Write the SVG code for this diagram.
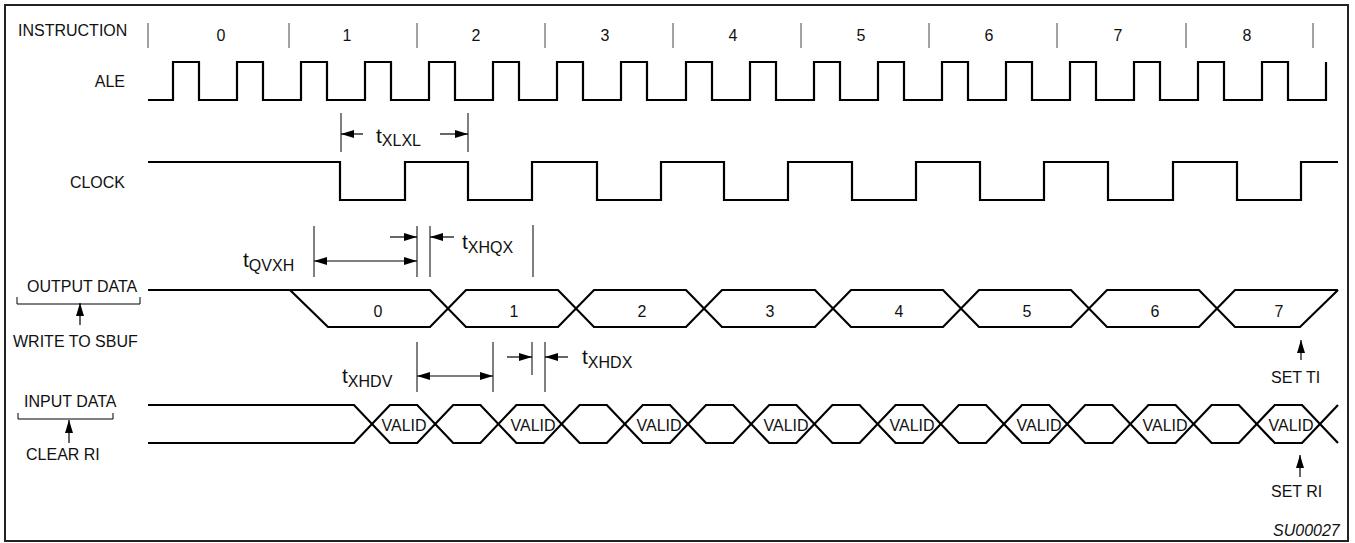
<svg xmlns="http://www.w3.org/2000/svg" width="1355" height="543" viewBox="0 0 1355 543">
<defs>
<marker id="ah" markerUnits="userSpaceOnUse" markerWidth="14" markerHeight="9" refX="13" refY="4" orient="auto-start-reverse">
<path d="M0,0 L13,4 L0,8 Z" fill="#000"/>
</marker>
<style>
text{font-family:"Liberation Sans",Arial,sans-serif;font-size:16px;fill:#111}
.wave{fill:none;stroke:#000;stroke-width:2.2;stroke-linejoin:miter}
.thin{fill:none;stroke:#000;stroke-width:1}
.tick{fill:none;stroke:#444;stroke-width:1}
.arr{fill:none;stroke:#000;stroke-width:1.2;marker-end:url(#ah)}
.arr2{fill:none;stroke:#000;stroke-width:1.2;marker-start:url(#ah);marker-end:url(#ah)}
.t{font-size:21px}
.mid{text-anchor:middle}
.end{text-anchor:end}
</style>
</defs>
<rect x="5" y="5" width="1343" height="536" fill="#fff" stroke="#222" stroke-width="2"/>

<g id="instruction">
<text x="18" y="36">INSTRUCTION</text>
<path class="tick" d="M148,23V48M289,23V48M417,23V48M545,23V48M673,23V48M801,23V48M929,23V48M1057,23V48M1186,23V48M1313,23V48"/>
<text class="mid" x="221" y="41">0</text>
<text class="mid" x="347" y="41">1</text>
<text class="mid" x="476" y="41">2</text>
<text class="mid" x="605" y="41">3</text>
<text class="mid" x="733" y="41">4</text>
<text class="mid" x="861" y="41">5</text>
<text class="mid" x="989" y="41">6</text>
<text class="mid" x="1118" y="41">7</text>
<text class="mid" x="1247" y="41">8</text>
</g>

<g id="ale">
<text class="end" x="125" y="87">ALE</text>
<path class="wave" d="M148,100 H173 V62 H199 V100 H237 V62 H263 V100 H301 V62 H327 V100 H365 V62 H391 V100 H429 V62 H455 V100 H493 V62 H519 V100 H557 V62 H583 V100 H621 V62 H647 V100 H686 V62 H712 V100 H750 V62 H776 V100 H814 V62 H840 V100 H878 V62 H904 V100 H942 V62 H968 V100 H1006 V62 H1032 V100 H1070 V62 H1096 V100 H1134 V62 H1160 V100 H1198 V62 H1224 V100 H1262 V62 H1288 V100 H1326 V62"/>
</g>

<g id="clock">
<text class="end" x="125" y="188">CLOCK</text>
<path class="wave" d="M148,162 H340 V200 H405 V162 H468 V200 H532 V162 H597 V200 H661 V162 H724 V200 H788 V162 H852 V200 H916 V162 H980 V200 H1044 V162 H1108 V200 H1173 V162 H1237 V200 H1301 V162 H1338"/>
</g>

<g id="output-data">
<text x="27" y="292">OUTPUT DATA</text>
<path class="thin" d="M17,297 V304 H140 V297"/>
<text x="13" y="347">WRITE TO SBUF</text>
<path class="wave" d="M148,290 H430 L466,327 H558 L594,290 H686 L722,327 H815 L851,290 H943 L979,327 H1071 L1107,290 H1199 L1235,327 H1300 L1338,290"/>
<path class="wave" d="M290,290 L328,327 H430 L466,290 H558 L594,327 H686 L722,290 H815 L851,327 H943 L979,290 H1071 L1107,327 H1199 L1235,290 H1338"/>
<text class="mid" x="378" y="317">0</text>
<text class="mid" x="514" y="317">1</text>
<text class="mid" x="642" y="317">2</text>
<text class="mid" x="770" y="317">3</text>
<text class="mid" x="899" y="317">4</text>
<text class="mid" x="1027" y="317">5</text>
<text class="mid" x="1155" y="317">6</text>
<text class="mid" x="1279" y="317">7</text>
<text x="1271" y="383">SET TI</text>
</g>

<g id="input-data">
<text x="24" y="407">INPUT DATA</text>
<path class="thin" d="M18,413 V419 H113 V413"/>
<text x="26" y="460">CLEAR RI</text>
<path class="wave" d="M148,405 H354 L390,443 H417.2 L453.2,405 H480.4 L516.4,443 H543.6 L579.6,405 H606.8 L642.8,443 H670 L706,405 H733.2 L769.2,443 H796.4 L832.4,405 H859.6 L895.6,443 H922.8 L958.8,405 H986 L1022,443 H1049.2 L1085.2,405 H1112.4 L1148.4,443 H1175.6 L1211.6,405 H1238.8 L1274.8,443 H1302 L1338,405"/>
<path class="wave" d="M148,443 H354 L390,405 H417.2 L453.2,443 H480.4 L516.4,405 H543.6 L579.6,443 H606.8 L642.8,405 H670 L706,443 H733.2 L769.2,405 H796.4 L832.4,443 H859.6 L895.6,405 H922.8 L958.8,443 H986 L1022,405 H1049.2 L1085.2,443 H1112.4 L1148.4,405 H1175.6 L1211.6,443 H1238.8 L1274.8,405 H1302 L1338,443"/>
<text class="mid" x="404" y="431">VALID</text>
<text class="mid" x="533" y="431">VALID</text>
<text class="mid" x="659" y="431">VALID</text>
<text class="mid" x="786" y="431">VALID</text>
<text class="mid" x="912" y="431">VALID</text>
<text class="mid" x="1039" y="431">VALID</text>
<text class="mid" x="1165" y="431">VALID</text>
<text class="mid" x="1291" y="431">VALID</text>
<text x="1271" y="497">SET RI</text>
</g>

<g id="timing-labels">
<text class="t" x="376" y="143">t<tspan font-size="16" dy="3">XLXL</tspan></text>
<text class="t" x="243" y="267">t<tspan font-size="16" dy="4">QVXH</tspan></text>
<text class="t" x="462" y="249">t<tspan font-size="16" dy="4">XHQX</tspan></text>
<text class="t" x="342" y="383">t<tspan font-size="16" dy="4">XHDV</tspan></text>
<text class="t" x="582" y="364">t<tspan font-size="16" dy="4">XHDX</tspan></text>
</g>

<g id="connectors">
<path class="thin" d="M341,113V152M468,113V152"/>
<path class="arr" d="M363,134H341"/>
<path class="arr" d="M440,134H468"/>
<path class="thin" d="M314,226V277M417,226V277M430,226V277M533,225V277"/>
<path class="arr2" d="M314,261H417"/>
<path class="arr" d="M390,237H417"/>
<path class="arr" d="M454,237H430"/>
<path class="thin" d="M417,342V392M493,342V392M532,342V375M545,342V392"/>
<path class="arr2" d="M417,376H493"/>
<path class="arr" d="M507,357H532"/>
<path class="arr" d="M568,357H545"/>
<path class="arr" d="M80,325V303"/>
<path class="arr" d="M69,443V420"/>
<path class="arr" d="M1301,360V340"/>
<path class="arr" d="M1300,477V455"/>
</g>

<text x="1273" y="536" font-size="14" font-style="italic">SU00027</text>
</svg>
